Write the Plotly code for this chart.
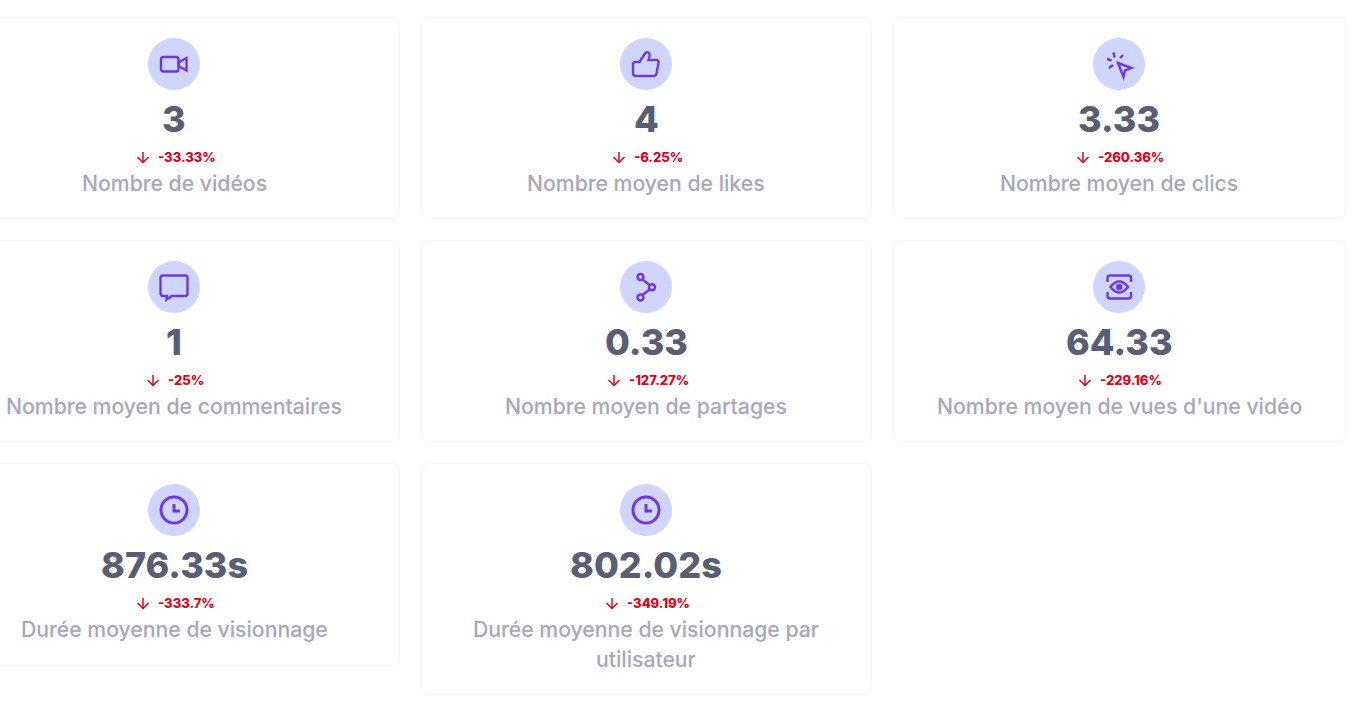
import plotly.graph_objects as go

W = 1355
H = 704

values = ['3', '4', '3.33', '1', '0.33', '64.33', '876.33s', '802.02s']
deltas = ['-33.33%', '-6.25%', '-260.36%', '-25%', '-127.27%', '-229.16%', '-333.7%', '-349.19%']
labels = [
    ['Nombre de vidéos'],
    ['Nombre moyen de likes'],
    ['Nombre moyen de clics'],
    ['Nombre moyen de commentaires'],
    ['Nombre moyen de partages'],
    ["Nombre moyen de vues d'une vidéo"],
    ['Durée moyenne de visionnage'],
    ['Durée moyenne de visionnage par', 'utilisateur'],
]
icons = ['video', 'thumb', 'cursor', 'comment', 'share', 'eye', 'clock', 'clock']

# card grid, in pixels
col_left = [-51, 421, 893]
col_right = [399, 871, 1345]
col_center = [174, 646, 1119]
row_top = [17, 240, 463]
row_bottom = [218, 441, 665]
arrow_x = [143, 619, 1083, 153, 614, 1085, 143, 612]

PURPLE = '#6d38e0'
CIRCLE = '#cfd5ff'
BORDER = '#f7f7fa'
VALUE = '#5a5e74'
LABEL = '#a5a8ba'
RED = '#e0001b'
FONT = 'Inter'

# icon outlines, relative to the centre of the circle
ICON_PATHS = {
    'video': ['M-13,-4.5 Q-13,-7 -10.5,-7 L2,-7 Q4.5,-7 4.5,-4.5 L4.5,5 Q4.5,7.5 2,7.5 L-10.5,7.5 Q-13,7.5 -13,5 Z',
              'M4.5,-1.5 L12.5,-6 L12.5,6.5 L4.5,2 Z'],
    'thumb': ['M-10.5,-2 L-6.5,-2 L-1,-10.5 Q0.5,-12.5 2.5,-11.5 Q4,-10.5 3.5,-8 L2.5,-4 L10,-4 Q13,-4 12.5,-1 '
              'L10.5,9.5 Q10,12 7.5,12 L-10,12 Q-13,12 -13,9.5 L-13,0.5 Q-13,-2 -10.5,-2 Z'],
    'cursor': ['M-1,-1 L12.5,4 L6,6.5 L4.5,13 Z',
               'M-5.5,-11.5 L-4.5,-6.5', 'M4,-9 L1,-6', 'M-12,-5 L-7.5,-3.5', 'M-10,4 L-6,1'],
    'comment': ['M-11,-11.5 L11,-11.5 Q13.5,-11.5 13.5,-9 L13.5,6.5 Q13.5,9 11,9 L-2,9 L-7.5,12.5 L-7,9 L-11,9 '
                'Q-13.5,9 -13.5,6.5 L-13.5,-9 Q-13.5,-11.5 -11,-11.5 Z'],
    'share': ['M-3.5,-7.5 L3.5,-2', 'M3.5,2.5 L-3.5,8'],
    'eye': ['M-11.5,-5 L-11.5,-9 Q-11.5,-11.5 -9,-11.5 L9.5,-11.5 Q12,-11.5 12,-9 L12,-5',
            'M-11.5,5 L-11.5,9 Q-11.5,11.5 -9,11.5 L9.5,11.5 Q12,11.5 12,9 L12,5',
            'M-8.5,0 Q0.2,-11 9,0 Q0.2,11 -8.5,0 Z'],
    'clock': ['M0,-6 L0,1 L6,1'],
}
# rings drawn as circles: x, y, radius, filled
ICON_RINGS = {
    'share': [(-5.5, -10, 3, False), (6, 0.3, 3, False), (-5.5, 10.5, 3, False)],
    'eye': [(0.2, 0, 2, True)],
    'clock': [(0, 0, 13, False)],
}
ICON_WIDTH = {'clock': 3}


def shift_path(path, dx, dy):
    # move an icon path to its place on the page
    out = []
    for part in path.split():
        if part == 'Z':
            out.append(part)
        elif part[0].isalpha():
            x, y = part[1:].split(',')
            out.append(f'{part[0]}{float(x) + dx},{float(y) + dy}')
        else:
            x, y = part.split(',')
            out.append(f'{float(x) + dx},{float(y) + dy}')
    return ' '.join(out)


def card_path(x0, y0, x1, y1, r=8):
    return (f'M{x0 + r},{y0} L{x1 - r},{y0} Q{x1},{y0} {x1},{y0 + r} L{x1},{y1 - r} Q{x1},{y1} {x1 - r},{y1} '
            f'L{x0 + r},{y1} Q{x0},{y1} {x0},{y1 - r} L{x0},{y0 + r} Q{x0},{y0} {x0 + r},{y0} Z')


def add_text(fig, x, y, text, size, color, weight, anchor='center'):
    fig.add_annotation(x=x, y=y, text=text, showarrow=False, xanchor=anchor, yanchor='middle',
                       font={'family': FONT, 'size': size, 'color': color, 'weight': weight})


def draw_icon(fig, name, cx, cy):
    stroke = ICON_WIDTH.get(name, 2.4)
    fig.add_shape(type='circle', x0=cx - 26, x1=cx + 26, y0=cy - 26, y1=cy + 26,
                  fillcolor=CIRCLE, line_width=0)
    for path in ICON_PATHS[name]:
        fig.add_shape(type='path', path=shift_path(path, cx, cy), line={'color': PURPLE, 'width': stroke})
    for rx, ry, r, filled in ICON_RINGS.get(name, []):
        fig.add_shape(type='circle', x0=cx + rx - r, x1=cx + rx + r, y0=cy + ry - r, y1=cy + ry + r,
                      fillcolor=PURPLE if filled else None, line={'color': PURPLE, 'width': stroke})


fig = go.Figure()

for i in range(len(values)):
    col = i % 3
    row = i // 3
    cx = col_center[col]
    top = row_top[row]
    bottom = row_bottom[row] + (29 if len(labels[i]) > 1 else 0)

    fig.add_shape(type='path', path=card_path(col_left[col] + 0.5, top + 0.5, col_right[col] + 0.5, bottom + 0.5),
                  fillcolor='white', line={'color': BORDER, 'width': 1})
    draw_icon(fig, icons[i], cx, top + 47)
    add_text(fig, cx, top + 102, values[i], 36, VALUE, 800)

    ax = arrow_x[i]
    ay = top + 140
    fig.add_shape(type='path', path=f'M{ax},{ay - 5} L{ax},{ay + 5.5}', line={'color': RED, 'width': 1.5})
    fig.add_shape(type='path', path=f'M{ax - 5.5},{ay} L{ax},{ay + 5.5} L{ax + 5.5},{ay}',
                  line={'color': RED, 'width': 1.5})
    add_text(fig, ax + 12.5, top + 140, deltas[i], 13, RED, 800, anchor='left')

    for n, line in enumerate(labels[i]):
        add_text(fig, cx, top + 166 + n * 30, line, 21.2, LABEL, 500)

fig.update_layout(
    width=W, height=H, margin={'l': 0, 'r': 0, 't': 0, 'b': 0},
    paper_bgcolor='white', plot_bgcolor='white', showlegend=False,
    xaxis={'range': [0, W], 'visible': False, 'fixedrange': True},
    yaxis={'range': [H, 0], 'visible': False, 'fixedrange': True},
)

fig.write_html('out.html', config={'displayModeBar': False},
               post_script="document.body.style.margin='0';document.body.style.overflow='hidden';")
